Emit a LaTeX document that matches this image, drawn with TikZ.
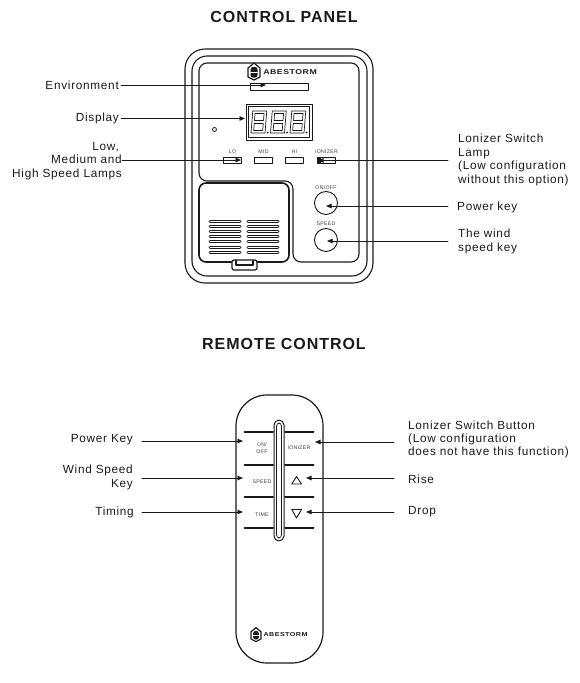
\documentclass[tikz,border=0pt]{standalone}
\usepackage{fontspec}
\setmainfont[LetterSpace=6]{Liberation Sans}
\usetikzlibrary{arrows.meta}
\definecolor{ink}{HTML}{1A1A1A}
\definecolor{faint}{HTML}{3C3C3C}

\begin{document}
\begin{tikzpicture}[x=1pt,y=-1pt,line cap=round,line join=round,
    callout/.style={font=\fontsize{11.8}{13.4}\selectfont,ink,inner sep=2pt},
    tiny/.style={font=\fontsize{5.2}{7}\selectfont,faint,inner sep=0pt},
    lead/.style={ink,line width=.9pt,-{Triangle[length=5.5pt,width=4.5pt]}},
    shell/.style={ink,line width=1.1pt},
    bar/.style={line width=3pt,ink}]
  \useasboundingbox (0,0) rectangle (580,683);
  \node[font=\fontsize{16}{18}\bfseries,ink] (paneltitle) at (284,17) {CONTROL PANEL};
  \node[font=\fontsize{16}{18}\bfseries,ink] (remotetitle) at (284,344) {REMOTE CONTROL};

  % panel housing
  \draw[shell,rounded corners=20pt] (185,49) rectangle (373,283);
  \draw[shell,rounded corners=15pt] (192,56) rectangle (367,276);
  \draw[shell,rounded corners=8pt] (199,63) -- (199,181) -- (293,181) -- (293,262)
    -- (359,262) -- (359,63) -- cycle;
  \fill[white,rounded corners=7pt] (198,183) rectangle (290,263);
  \draw[ink,line width=1.6pt,rounded corners=7pt] (199,183) rectangle (289,262);
  \draw[ink,line width=1.2pt,fill=white,rounded corners=2pt] (232,260) rectangle (257,270);
  \draw[ink,line width=1.2pt] (236,260.5) -- (236,265) -- (253,265) -- (253,260.5);
  \foreach \y in {221,226,231,236,241,247,252}{
    \draw[bar] (210,\y) -- (240,\y);
    \draw[white,line width=.8pt] (210,\y) -- (240,\y);
    \draw[bar] (248,\y) -- (278,\y);
    \draw[white,line width=.8pt] (248,\y) -- (278,\y);
  }

  % logo, on the panel and on the remote
  \foreach \lx/\ly/\ls in {254/72/1,256/635/.82}{
    \begin{scope}[shift={(\lx,\ly)},scale=\ls]
      \draw[ink,line width=1.2pt] (-6,-4) -- (0,-9) -- (6,-4) -- (6,5) -- (0,8) -- (-6,5) -- cycle;
      \fill[ink,rounded corners=2.5pt] (-3.5,-5) rectangle (3.5,5.5);
      \draw[white,line width=.9pt] (-3.5,0) -- (3.5,0);
      \node[transform shape,xscale=1.25,anchor=west,inner sep=0pt,ink,
        font=\fontsize{7}{8}\bfseries] at (9,0) {ABESTORM};
    \end{scope}
  }

  % display
  \draw[ink,line width=1pt] (250,83) rectangle (308,90);
  \draw[ink,line width=.9pt] (246,104) rectangle (312,140);
  \draw[ink,line width=.5pt] (248.5,106.5) rectangle (309.5,137.5);
  \foreach \x in {251,270.5,290}{
    \begin{scope}[shift={(\x,133)},xslant=.08,ink,line width=.7pt]
      \draw (0,-22) rectangle (14,0);
      \draw (2.5,-19.5) rectangle (11.5,-12.5);
      \draw (2.5,-9.5) rectangle (11.5,-2.5);
      \fill (16.5,-.5) circle (1);
    \end{scope}
  }
  \draw[ink,line width=.8pt] (214.5,129.5) circle (2);

  % lamps
  \foreach \x/\txt/\nm in {232/LO/lo,263/MID/mid,294/HI/hi,326/IONIZER/ion}{
    \node[tiny] at (\x+.5,152) {\txt};
    \draw[ink,line width=.9pt] (\x-9,157) rectangle (\x+9,163.5);
    \coordinate (lamp\nm) at (\x,160);
  }
  \fill[ink] (318,158) rectangle (321,163);

  % keys
  \node[tiny] at (326,188) {ON/OFF};
  \node[tiny] at (326,224) {SPEED};
  \draw[ink,line width=.9pt] (326,203) circle (11.5);
  \draw[ink,line width=.9pt] (326,240) circle (11.5);

  % panel callouts
  \node[callout,anchor=east] (environment) at (121,85) {Environment};
  \node[callout,anchor=east] (display) at (121,118.5) {Display};
  \node[callout,anchor=east,align=right] (lamps) at (124,161)
    {Low,\hspace*{3pt}\\Medium and\hspace*{1pt}\\High Speed Lamps};
  \node[callout,anchor=west,align=left] (ionlamp) at (456,160)
    {Lonizer Switch\\Lamp\\(Low configuration\\without this option)};
  \node[callout,anchor=west] (powerkey) at (455,207) {Power key};
  \node[callout,anchor=west,align=left] (windkey) at (456,241.5) {The wind\\speed key};
  \coordinate (envtip) at (266,85);
  \coordinate (disptip) at (245,118.5);
  \coordinate (lamptail) at (122,160);
  \coordinate (lamptip) at (241,160);
  \coordinate (iontail) at (448,160.5);
  \coordinate (iontip) at (318,160.5);
  \coordinate (powtail) at (448,206);
  \coordinate (powtip) at (326,206);
  \coordinate (spdtail) at (448,241);
  \coordinate (spdtip) at (327,241);
  \draw[lead] (environment) -- (envtip);
  \draw[lead] (display) -- (disptip);
  \draw[lead] (lamptail) -- (lamptip);
  \draw[lead] (iontail) -- (iontip);
  \draw[lead] (powtail) -- (powtip);
  \draw[lead] (spdtail) -- (spdtip);

  % remote body
  \draw[ink,line width=1.2pt,rounded corners=31pt] (236,395) rectangle (323,663);
  \draw[ink,line width=1pt,rounded corners=5pt] (274,420) rectangle (284,541);
  \draw[ink,line width=.7pt,rounded corners=3pt] (276.5,423) rectangle (281.5,538);
  \foreach \y in {432,465,497,528}{
    \draw[ink,line width=2pt] (244.5,\y) -- (273,\y);
    \draw[ink,line width=2pt] (285,\y) -- (313.5,\y);
  }
  \node[tiny,align=center] (onkey) at (262,448.5) {ON/\\OFF};
  \node[tiny] (ionkey) at (299,448) {IONIZER};
  \node[tiny] (speedkey) at (262,482) {SPEED};
  \node[tiny] (timekey) at (262,515) {TIME};
  \draw[ink,line width=.9pt] (291.8,484) -- (296.5,476.5) -- (301.5,484) -- cycle;
  \draw[ink,line width=.9pt] (291.8,509.5) -- (296.5,518) -- (301.5,509.5) -- cycle;

  % remote callouts
  \node[callout,anchor=east] (rempower) at (135,440) {Power Key};
  \node[callout,anchor=east,align=right] (remwind) at (135,477.5) {Wind Speed\\Key};
  \node[callout,anchor=east] (remtime) at (136,512) {Timing};
  \node[callout,anchor=west,align=left] (remion) at (406,439.5)
    {Lonizer Switch Button\\(Low configuration\\does not have this function)};
  \node[callout,anchor=west] (remrise) at (406,479) {Rise};
  \node[callout,anchor=west] (remdrop) at (406,512) {Drop};
  \coordinate (rptail) at (142,441);
  \coordinate (rptip) at (243,441);
  \coordinate (rwtail) at (142,478);
  \coordinate (rwtip) at (243,478);
  \coordinate (rttail) at (142,512);
  \coordinate (rttip) at (243,512);
  \coordinate (ritail) at (394,442);
  \coordinate (ritip) at (315,442);
  \coordinate (rrtail) at (394,478);
  \coordinate (rrtip) at (306,478);
  \coordinate (rdtail) at (394,512);
  \coordinate (rdtip) at (306,512);
  \foreach \a/\b in {rptail/rptip,rwtail/rwtip,rttail/rttip,ritail/ritip,rrtail/rrtip,rdtail/rdtip}
    \draw[lead] (\a) -- (\b);
\end{tikzpicture}
\end{document}
